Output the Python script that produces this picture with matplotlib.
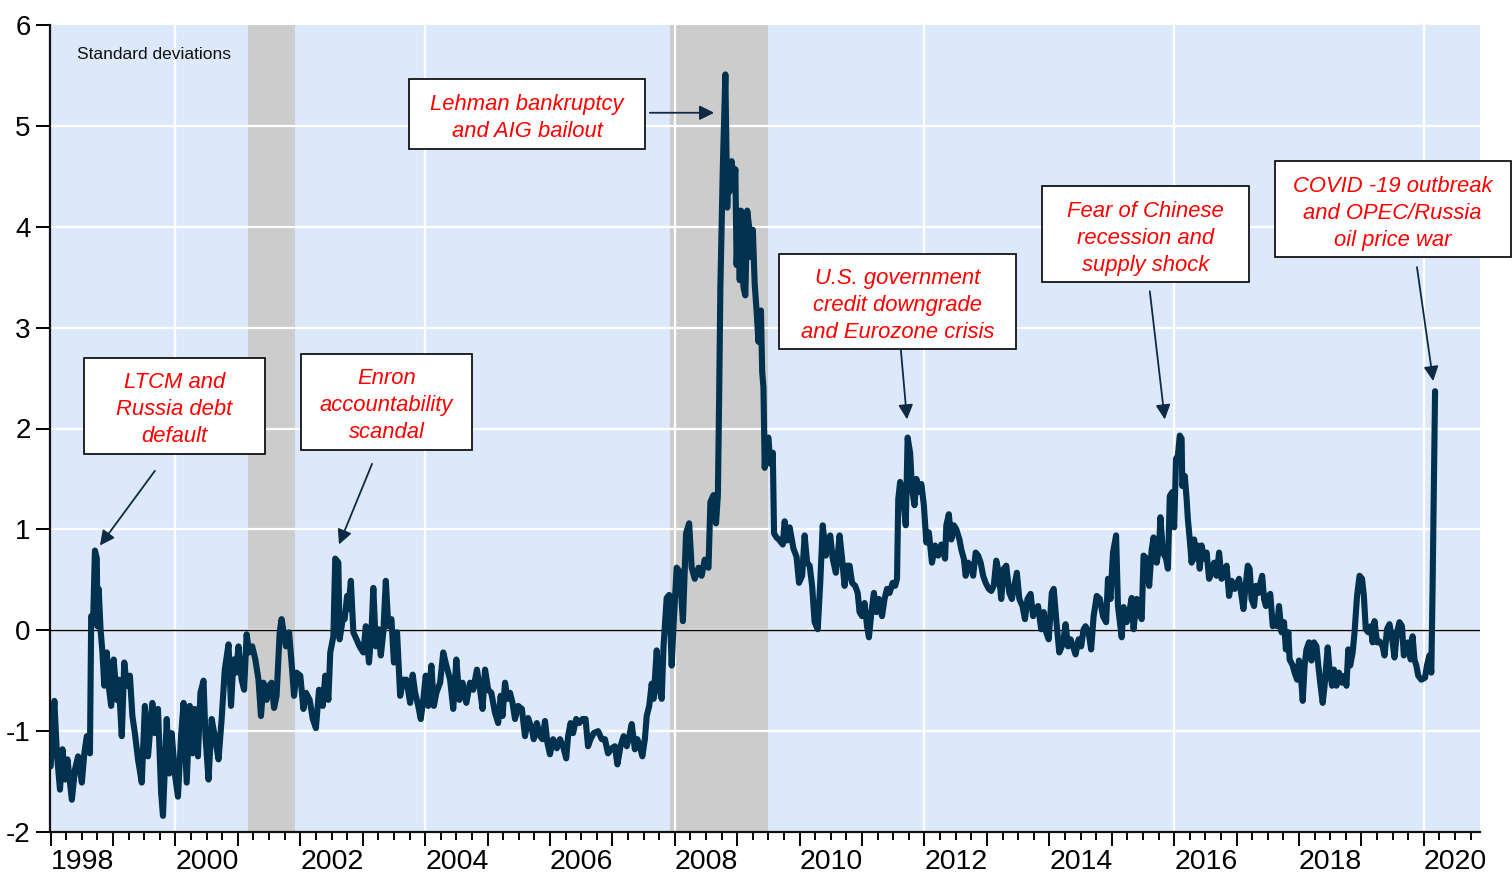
import numpy as np
import matplotlib.pyplot as plt
from matplotlib.patches import Rectangle

plt.rcParams['font.family'] = ['Liberation Sans', 'DejaVu Sans']

# weekly financial stress index (decimal year, std devs)
years = [
    1998.00, 1998.06, 1998.10, 1998.15, 1998.19, 1998.23, 1998.27, 1998.34, 1998.39, 1998.44,
    1998.50, 1998.54, 1998.58, 1998.63, 1998.65, 1998.68, 1998.71, 1998.74, 1998.75, 1998.77,
    1998.80, 1998.83, 1998.86, 1998.90, 1998.93, 1998.97, 1999.01, 1999.06, 1999.09, 1999.14,
    1999.18, 1999.22, 1999.27, 1999.31, 1999.35, 1999.40, 1999.46, 1999.51, 1999.56, 1999.63,
    1999.67, 1999.72, 1999.77, 1999.80, 1999.86, 1999.90, 1999.94, 1999.99, 2000.04, 2000.09,
    2000.13, 2000.18, 2000.23, 2000.27, 2000.31, 2000.36, 2000.40, 2000.45, 2000.48, 2000.53,
    2000.58, 2000.63, 2000.69, 2000.74, 2000.79, 2000.85, 2000.89, 2000.93, 2000.97, 2001.01,
    2001.06, 2001.10, 2001.14, 2001.18, 2001.23, 2001.28, 2001.33, 2001.37, 2001.41, 2001.46,
    2001.50, 2001.54, 2001.58, 2001.62, 2001.67, 2001.70,
    2001.77, 2001.82, 2001.86, 2001.90, 2001.94, 2002.00, 2002.05, 2002.09, 2002.15, 2002.20,
    2002.25, 2002.30, 2002.36, 2002.40, 2002.45, 2002.48, 2002.53, 2002.56, 2002.61, 2002.63,
    2002.68, 2002.71, 2002.75, 2002.77, 2002.81, 2002.85, 2002.90, 2002.95, 2003.01, 2003.05,
    2003.10, 2003.14, 2003.17, 2003.21, 2003.25, 2003.29, 2003.33, 2003.37, 2003.41, 2003.46,
    2003.50, 2003.55, 2003.60, 2003.65, 2003.70, 2003.76, 2003.80, 2003.84, 2003.89, 2003.93,
    2003.97, 2004.01, 2004.05, 2004.10, 2004.14, 2004.18, 2004.24, 2004.29, 2004.34, 2004.40,
    2004.45, 2004.50, 2004.55, 2004.60, 2004.66, 2004.72, 2004.77, 2004.83, 2004.88, 2004.92,
    2004.96, 2005.01, 2005.06, 2005.12, 2005.17, 2005.21,
    2005.24, 2005.28, 2005.32, 2005.36, 2005.40, 2005.44, 2005.49, 2005.55, 2005.60, 2005.65,
    2005.71, 2005.74, 2005.79, 2005.84, 2005.88, 2005.92, 2005.96, 2006.00, 2006.05, 2006.11,
    2006.16, 2006.21, 2006.26, 2006.29, 2006.33, 2006.37, 2006.42, 2006.47, 2006.52, 2006.57,
    2006.61, 2006.65, 2006.70, 2006.77, 2006.83, 2006.88, 2006.93, 2006.99, 2007.04, 2007.08,
    2007.13, 2007.18, 2007.23, 2007.27, 2007.31, 2007.36, 2007.40, 2007.44, 2007.48, 2007.52,
    2007.55, 2007.59, 2007.63, 2007.66, 2007.71, 2007.75, 2007.79, 2007.82, 2007.87, 2007.91,
    2007.95, 2007.98,
    2008.03, 2008.08, 2008.13, 2008.18, 2008.23, 2008.27, 2008.32, 2008.38, 2008.43, 2008.48,
    2008.54, 2008.57, 2008.62, 2008.66, 2008.69, 2008.71, 2008.73, 2008.77, 2008.81, 2008.84,
    2008.86, 2008.88, 2008.91, 2008.95, 2008.97, 2008.99, 2009.02, 2009.04, 2009.06, 2009.10,
    2009.13, 2009.16, 2009.19, 2009.21, 2009.25, 2009.28, 2009.31, 2009.34, 2009.38, 2009.40,
    2009.42, 2009.44, 2009.47, 2009.50, 2009.53, 2009.57, 2009.59, 2009.63, 2009.68, 2009.73,
    2009.76, 2009.80, 2009.84, 2009.90, 2009.95, 2009.99,
    2010.04, 2010.08, 2010.12, 2010.16, 2010.20, 2010.24, 2010.29, 2010.33, 2010.37, 2010.42,
    2010.45, 2010.49, 2010.53, 2010.58, 2010.61, 2010.64, 2010.68, 2010.72, 2010.76, 2010.80,
    2010.84, 2010.89, 2010.93, 2010.96, 2011.00, 2011.04, 2011.08, 2011.11, 2011.15, 2011.19,
    2011.23, 2011.27, 2011.32, 2011.36, 2011.40, 2011.44, 2011.49, 2011.53, 2011.56, 2011.58,
    2011.61, 2011.66, 2011.70, 2011.73, 2011.77, 2011.80, 2011.84, 2011.87, 2011.91, 2011.95,
    2011.99, 2012.03, 2012.07, 2012.12, 2012.17, 2012.22, 2012.27, 2012.33, 2012.35, 2012.39,
    2012.43, 2012.47, 2012.51, 2012.56, 2012.59, 2012.63, 2012.66, 2012.70, 2012.74, 2012.78,
    2012.82, 2012.86, 2012.90, 2012.94, 2012.98, 2013.03, 2013.07, 2013.11, 2013.15, 2013.19,
    2013.23, 2013.27, 2013.31, 2013.36, 2013.40, 2013.44, 2013.48, 2013.52, 2013.57, 2013.61,
    2013.65, 2013.70, 2013.74, 2013.78, 2013.82, 2013.87, 2013.91, 2013.95, 2013.99, 2014.04,
    2014.07, 2014.12, 2014.16, 2014.20, 2014.23, 2014.26, 2014.30, 2014.34, 2014.38, 2014.42,
    2014.47, 2014.51, 2014.55, 2014.58, 2014.63, 2014.67, 2014.71, 2014.76,
    2014.81, 2014.86, 2014.91, 2014.94, 2014.98, 2015.02, 2015.07, 2015.10, 2015.16, 2015.19,
    2015.24, 2015.28, 2015.32, 2015.35, 2015.40, 2015.44, 2015.48, 2015.51, 2015.56, 2015.60,
    2015.64, 2015.67, 2015.72, 2015.76, 2015.78, 2015.82, 2015.87, 2015.90, 2015.93, 2015.97,
    2016.00, 2016.03, 2016.06, 2016.09, 2016.12, 2016.13, 2016.17, 2016.20, 2016.22, 2016.25,
    2016.28, 2016.32, 2016.35, 2016.38, 2016.41, 2016.44, 2016.48, 2016.52, 2016.56, 2016.60,
    2016.64, 2016.68, 2016.72, 2016.76, 2016.80, 2016.84, 2016.88, 2016.92, 2016.97, 2017.01,
    2017.04, 2017.08, 2017.11, 2017.14, 2017.18, 2017.21, 2017.24, 2017.28, 2017.31, 2017.35,
    2017.37, 2017.41, 2017.44, 2017.47, 2017.51, 2017.54, 2017.58, 2017.61, 2017.65, 2017.68,
    2017.72, 2017.76, 2017.79, 2017.83, 2017.85, 2017.90, 2017.93, 2017.97, 2018.00, 2018.03,
    2018.06, 2018.09, 2018.12, 2018.16, 2018.20, 2018.24, 2018.28, 2018.31, 2018.34, 2018.38,
    2018.41, 2018.46, 2018.49, 2018.53, 2018.56, 2018.60, 2018.64, 2018.69, 2018.73, 2018.76,
    2018.79, 2018.82, 2018.86, 2018.89, 2018.93, 2018.97, 2019.01, 2019.04, 2019.07, 2019.11,
    2019.15, 2019.18, 2019.21, 2019.25, 2019.29, 2019.34, 2019.37, 2019.41, 2019.45, 2019.50,
    2019.53, 2019.57, 2019.61, 2019.65, 2019.68, 2019.71, 2019.75, 2019.79, 2019.82, 2019.85,
    2019.88, 2019.91, 2019.96, 2020.02, 2020.05, 2020.09, 2020.12, 2020.14, 2020.16, 2020.18,
]
stress = [
    -1.35, -0.70, -1.22, -1.58, -1.18, -1.48, -1.28, -1.68, -1.38, -1.25,
    -1.51, -1.22, -1.05, -1.22, 0.14, 0.08, 0.79, 0.71, 0.04, 0.41,
    0.01, -0.22, -0.55, -0.22, -0.55, -0.75, -0.29, -0.69, -0.49, -1.05,
    -0.32, -0.55, -0.45, -0.85, -1.02, -1.28, -1.51, -0.75, -1.25, -0.72,
    -1.02, -0.78, -1.61, -1.84, -0.88, -1.42, -1.02, -1.42, -1.65, -1.05,
    -0.72, -1.51, -0.75, -1.22, -0.78, -1.25, -0.62, -0.50, -1.05, -1.48,
    -0.88, -1.05, -1.28, -0.88, -0.39, -0.14, -0.75, -0.29, -0.42, -0.16,
    -0.49, -0.59, -0.04, -0.22, -0.16, -0.29, -0.49, -0.85, -0.52, -0.69,
    -0.55, -0.52, -0.77, -0.65, -0.02, 0.11,
    -0.16, -0.02, -0.32, -0.65, -0.42, -0.45, -0.78, -0.62, -0.69, -0.88,
    -0.97, -0.59, -0.75, -0.45, -0.69, -0.22, -0.06, 0.71, 0.67, -0.09,
    0.11, 0.11, 0.34, 0.21, 0.49, -0.02, -0.09, -0.16, -0.22, 0.04,
    -0.32, -0.02, 0.42, -0.16, 0.01, -0.25, -0.02, 0.49, 0.04, 0.11,
    -0.32, -0.02, -0.65, -0.49, -0.49, -0.72, -0.44, -0.62, -0.75, -0.88,
    -0.69, -0.45, -0.75, -0.35, -0.75, -0.62, -0.52, -0.22, -0.35, -0.49,
    -0.78, -0.29, -0.69, -0.52, -0.72, -0.52, -0.59, -0.39, -0.59, -0.78,
    -0.39, -0.59, -0.62, -0.82, -0.92, -0.65,
    -0.85, -0.52, -0.68, -0.62, -0.72, -0.88, -0.75, -0.78, -1.05, -0.87,
    -0.98, -1.08, -0.92, -1.05, -1.08, -0.90, -1.12, -1.23, -1.08, -1.17,
    -1.08, -1.15, -1.27, -1.05, -0.92, -1.02, -0.88, -0.92, -0.88, -0.88,
    -1.15, -1.08, -1.02, -1.00, -1.08, -1.08, -1.22, -1.17, -1.15, -1.33,
    -1.15, -1.05, -1.15, -1.05, -0.93, -1.18, -1.08, -1.15, -1.25, -1.08,
    -0.85, -0.75, -0.53, -0.68, -0.20, -0.58, -0.68, -0.15, 0.32, 0.35,
    -0.35, 0.05,
    0.62, 0.58, 0.09, 0.96, 1.06, 0.62, 0.51, 0.62, 0.54, 0.70,
    0.62, 1.27, 1.34, 1.06, 1.34, 2.29, 3.40, 4.61, 5.51, 4.19,
    4.61, 4.35, 4.65, 4.42, 4.57, 3.62, 4.16, 3.47, 4.16, 3.40,
    3.32, 4.16, 4.00, 3.70, 3.97, 3.43, 3.17, 2.86, 3.17, 2.56,
    2.41, 1.61, 1.87, 1.91, 1.65, 1.76, 0.96, 0.92, 0.89, 0.85,
    1.08, 0.89, 1.02, 0.81, 0.73, 0.47,
    0.54, 0.94, 0.67, 0.64, 0.44, 0.08, 0.01, 0.47, 1.04, 0.74,
    0.90, 0.94, 0.71, 0.57, 0.74, 0.94, 0.71, 0.44, 0.64, 0.64,
    0.47, 0.44, 0.37, 0.18, 0.14, 0.27, 0.04, -0.07, 0.18, 0.37,
    0.18, 0.31, 0.14, 0.31, 0.41, 0.37, 0.47, 0.44, 0.51, 1.30,
    1.47, 1.30, 1.04, 1.91, 1.76, 1.40, 1.24, 1.50, 1.37, 1.45,
    1.24, 0.87, 0.97, 0.67, 0.84, 0.74, 0.85, 0.71, 1.04, 1.15,
    0.90, 1.04, 1.00, 0.90, 0.80, 0.71, 0.54, 0.67, 0.64, 0.54,
    0.77, 0.74, 0.67, 0.54, 0.47, 0.41, 0.39, 0.44, 0.69, 0.57,
    0.31, 0.61, 0.64, 0.37, 0.31, 0.44, 0.57, 0.31, 0.24, 0.11,
    0.31, 0.36, 0.14, 0.21, 0.24, 0.01, 0.18, -0.02, -0.09, 0.37,
    0.41, 0.04, -0.22, -0.16, -0.09, 0.06, -0.16, -0.09, -0.16, -0.24,
    -0.09, -0.16, 0.01, 0.04, -0.02, -0.19, 0.14, 0.34,
    0.31, 0.14, 0.08, 0.51, 0.31, 0.77, 0.94, 0.24, -0.07, 0.23,
    0.08, 0.18, 0.32, 0.01, 0.31, 0.18, 0.11, 0.74, 0.71, 0.44,
    0.80, 0.92, 0.67, 0.84, 1.12, 0.77, 0.71, 0.61, 1.33, 1.37,
    1.02, 1.70, 1.73, 1.93, 1.90, 1.43, 1.53, 1.30, 1.10, 0.90,
    0.67, 0.90, 0.71, 0.84, 0.61, 0.84, 0.71, 0.77, 0.51, 0.57,
    0.67, 0.54, 0.77, 0.51, 0.57, 0.64, 0.34, 0.49, 0.41, 0.47,
    0.51, 0.34, 0.21, 0.41, 0.64, 0.61, 0.31, 0.24, 0.44, 0.37,
    0.44, 0.54, 0.31, 0.24, 0.34, 0.36, 0.04, 0.08, 0.04, 0.24,
    -0.02, 0.08, -0.19, -0.02, -0.29, -0.35, -0.42, -0.49, -0.30, -0.45,
    -0.70, -0.35, -0.19, -0.12, -0.30, -0.12, -0.16, -0.35, -0.52, -0.72,
    -0.55, -0.17, -0.39, -0.55, -0.39, -0.55, -0.42, -0.52, -0.45, -0.55,
    -0.19, -0.35, -0.22, -0.02, 0.34, 0.54, 0.51, 0.34, 0.01, -0.02,
    0.04, -0.12, 0.09, -0.12, -0.11, -0.16, -0.25, 0.01, 0.06, -0.12,
    -0.27, -0.02, 0.08, 0.04, -0.25, -0.22, -0.12, -0.29, -0.06, -0.29,
    -0.35, -0.45, -0.49, -0.47, -0.35, -0.25, -0.42, 0.40, 1.40, 2.37,
]

recessions = [(2001.17, 2001.92), (2007.93, 2009.50)]

# label text, box (x0, x1, y0, y1), arrow tail, arrow head
notes = [
    ("LTCM and\nRussia debt\ndefault", (1998.53, 2001.43, 1.75, 2.70), (1999.67, 1.58), (1998.79, 0.84)),
    ("Enron\naccountability\nscandal", (2002.01, 2004.75, 1.79, 2.74), (2003.15, 1.65), (2002.62, 0.85)),
    ("Lehman bankruptcy\nand AIG bailout", (2003.74, 2007.53, 4.77, 5.46), (2007.60, 5.13), (2008.63, 5.13)),
    ("U.S. government\ncredit downgrade\nand Eurozone crisis", (2009.67, 2013.47, 2.79, 3.73), (2011.62, 2.79), (2011.72, 2.09)),
    ("Fear of Chinese\nrecession and\nsupply shock", (2013.88, 2017.20, 3.45, 4.40), (2015.61, 3.36), (2015.85, 2.09)),
    ("COVID -19 outbreak\nand OPEC/Russia\noil price war", (2017.61, 2021.39, 3.70, 4.65), (2019.89, 3.60), (2020.15, 2.47)),
]

fig = plt.figure(figsize=(15.12, 8.73), dpi=100)
ax = fig.add_axes([50 / 1512, 41 / 873, 1430 / 1512, 807 / 873])
ax.set_facecolor('#dde9fb')

for a, b in recessions:
    ax.axvspan(a, b, color='#cccccc', lw=0, zorder=1)
for y in range(-1, 6):
    ax.axhline(y, color='white', lw=1.6, zorder=2)
for x in range(2000, 2021, 4):
    ax.axvline(x, color='white', lw=1.6, zorder=2)
ax.axhline(0, color='black', lw=1.0, zorder=3)

ax.plot(years, stress, color='#00314f', lw=4.4, zorder=4,
        solid_joinstyle='round', solid_capstyle='round')

ax.set_xlim(1997.99, 2020.9)
ax.set_ylim(-2, 6)

for s in ['top', 'right']:
    ax.spines[s].set_visible(False)
for s in ['left', 'bottom']:
    ax.spines[s].set_linewidth(1.6)
    ax.spines[s].set_color('#111111')

major_years = list(range(1998, 2021))
ax.set_xticks(major_years)
ax.set_xticklabels([str(y) if y % 2 == 0 else '' for y in major_years])
ax.set_xticks(np.arange(1998, 2020.9, 0.25), minor=True)
for lab in ax.get_xticklabels():
    lab.set_ha('left')
ax.tick_params(axis='x', which='major', length=10, width=1.4, pad=2, labelsize=20.5)
ax.tick_params(axis='x', which='minor', length=6, width=1.4)

ax.set_yticks(range(-2, 7))
ax.set_yticklabels([str(v) for v in range(-2, 7)])
ax.tick_params(axis='y', length=10, width=1.4, pad=4, labelsize=20)
for lab in ax.get_yticklabels():
    lab.set_va('center_baseline')

ax.text(0.019, 0.963, "Standard deviations", transform=ax.transAxes,
        fontsize=12.5, va='center', ha='left', color='#111111')

for label, (x0, x1, y0, y1), tail, head in notes:
    ax.add_patch(Rectangle((x0, y0), x1 - x0, y1 - y0, facecolor='white',
                           edgecolor='black', lw=1.2, zorder=5, clip_on=False))
    ax.text((x0 + x1) / 2, (y0 + y1) / 2 - 0.04, label, color='red', style='italic',
            fontsize=15.8, ha='center', va='center', linespacing=1.38,
            zorder=6, clip_on=False)
    ax.annotate('', xy=head, xytext=tail, zorder=6,
                arrowprops=dict(arrowstyle='-|>', color='#0d2b45', lw=1.3,
                                mutation_scale=22, shrinkA=0, shrinkB=0))

fig.savefig('out.png', dpi=100)
